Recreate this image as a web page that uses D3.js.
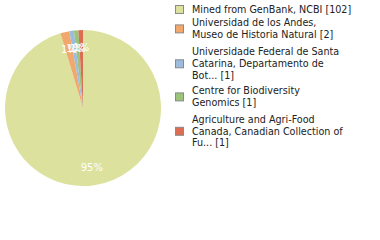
<!DOCTYPE html>
<html>
<head>
<meta charset="utf-8">
<script src="https://cdn.jsdelivr.net/npm/d3@7"></script>
<style>
  body { margin: 0; background: #fff; }
  svg { display: block; }
</style>
</head>
<body>
<svg id="chart"></svg>
<script>
const institutions = [
  ["Mined from GenBank, NCBI [102]"],
  ["Universidad de los Andes,", "Museo de Historia Natural [2]"],
  ["Universidade Federal de Santa", "Catarina, Departamento de", "Bot... [1]"],
  ["Centre for Biodiversity", "Genomics [1]"],
  ["Agriculture and Agri-Food", "Canada, Canadian Collection of", "Fu... [1]"]
];
const counts = [102, 2, 1, 1, 1];
const colors = ["#dce19e", "#f0a86d", "#9dbcdd", "#9cc37b", "#dc6d52"];

const width = 380, height = 240;
const cx = 83, cy = 108, radius = 78;
const legendY = [9.5, 23, 52, 91, 119.5];
const lineH = 11.8;
const font = "DejaVu Sans, sans-serif";

const svg = d3.select("#chart").attr("width", width).attr("height", height);

const data = counts.map((c, i) => ({ label: institutions[i], count: c, color: colors[i] }));
const total = d3.sum(counts);

const pie = d3.pie().value(d => d.count).sort(null);
const arc = d3.arc().innerRadius(0).outerRadius(radius);
const labelArc = d3.arc().innerRadius(radius * 0.77).outerRadius(radius * 0.77);

const g = svg.append("g").attr("transform", `translate(${cx},${cy})`);
const arcs = pie(data);

g.selectAll("path")
  .data(arcs)
  .enter()
  .append("path")
  .attr("d", arc)
  .attr("fill", d => d.data.color);

g.selectAll("text")
  .data(arcs)
  .enter()
  .append("text")
  .attr("transform", d => `translate(${labelArc.centroid(d)})`)
  .attr("text-anchor", "middle")
  .attr("dy", "0.35em")
  .style("font-family", font)
  .style("font-size", "10px")
  .style("fill", "#fff")
  .text(d => Math.max(1, Math.floor(d.data.count / total * 100)) + "%");

const legend = svg.append("g");

const item = legend.selectAll("g")
  .data(data)
  .enter()
  .append("g")
  .attr("transform", (d, i) => `translate(0,${legendY[i]})`);

item.append("rect")
  .attr("x", 175.5)
  .attr("y", d => (d.label.length - 1) * lineH / 2 - 4)
  .attr("width", 8)
  .attr("height", 8)
  .attr("fill", d => d.color)
  .attr("stroke", "#8a8a8a")
  .attr("stroke-width", 1);

item.append("text")
  .style("font-family", font)
  .style("font-size", "9.6px")
  .style("fill", "#222")
  .selectAll("tspan")
  .data(d => d.label)
  .enter()
  .append("tspan")
  .attr("x", 192)
  .attr("y", (d, i) => i * lineH)
  .attr("dy", "0.35em")
  .text(d => d);
</script>
</body>
</html>
